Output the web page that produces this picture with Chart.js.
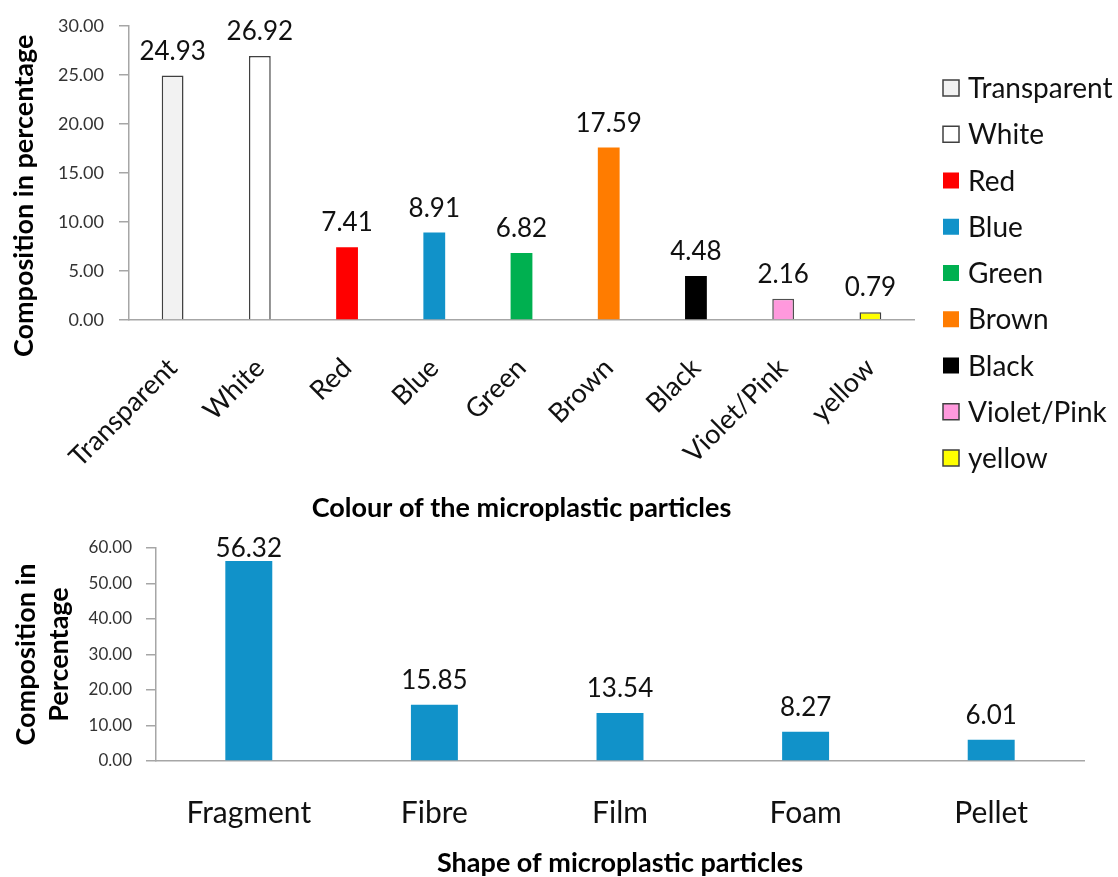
<!DOCTYPE html>
<html>
<head>
<meta charset="utf-8">
<script src="https://cdn.jsdelivr.net/npm/chart.js@4"></script>
<style>
  body { margin: 0; background: #fff; }
  #wrap { position: relative; width: 1118px; height: 877px; }
  #colourChart { position: absolute; left: 0; top: 0; }
  #shapeChart { position: absolute; left: 0; top: 520px; }
</style>
</head>
<body>
<div id="wrap">
  <canvas id="colourChart" width="1118" height="530"></canvas>
  <canvas id="shapeChart" width="1118" height="357"></canvas>
</div>
<script>
// Colour of particles (top chart)
const colourLabels = ['Transparent', 'White', 'Red', 'Blue', 'Green', 'Brown', 'Black', 'Violet/Pink', 'yellow'];
const colourValues = [24.93, 26.92, 7.41, 8.91, 6.82, 17.59, 4.48, 2.16, 0.79];
const colourFills = ['#f2f2f2', '#ffffff', '#ff0000', '#1192c9', '#00b050', '#ff7c00', '#000000', '#ff99dd', '#ffff00'];
const colourEdges = ['#404040', '#404040', '#ff0000', '#1192c9', '#00b050', '#ff7c00', '#000000', '#505050', '#404040'];
const colourEdgeWidths = [1.5, 1.5, 0, 0, 0, 0, 0, 1.5, 1.5];

// Shape of particles (bottom chart)
const shapeLabels = ['Fragment', 'Fibre', 'Film', 'Foam', 'Pellet'];
const shapeValues = [56.32, 15.85, 13.54, 8.27, 6.01];

const FONT = 'Lato';
const AXIS_GREY = '#a6a6a6';
Chart.defaults.font.family = FONT;
Chart.defaults.color = '#222';

// value labels above each bar
const valueLabels = {
  id: 'valueLabels',
  afterDatasetsDraw(chart) {
    const ctx = chart.ctx;
    const meta = chart.getDatasetMeta(0);
    const values = chart.data.datasets[0].data;
    ctx.save();
    ctx.font = '26px ' + FONT;
    ctx.fillStyle = '#111';
    ctx.textAlign = 'center';
    ctx.textBaseline = 'alphabetic';
    meta.data.forEach((bar, i) => {
      const y = Math.max(bar.y - 16, chart.chartArea.top + 9);
      ctx.fillText(values[i].toFixed(2), bar.x, y);
    });
    ctx.restore();
  }
};

// legend on the right of the colour chart
const colourLegend = {
  id: 'colourLegend',
  afterDraw(chart) {
    const ctx = chart.ctx;
    const x = chart.chartArea.right + 29;
    ctx.save();
    ctx.font = '28px ' + FONT;
    ctx.textBaseline = 'middle';
    ctx.textAlign = 'left';
    colourLabels.forEach((label, i) => {
      const y = 88 + i * 46.25;
      ctx.fillStyle = colourFills[i];
      ctx.fillRect(x, y - 8, 16, 16);
      if (colourEdgeWidths[i]) {
        ctx.strokeStyle = '#404040';
        ctx.lineWidth = 1.5;
        ctx.strokeRect(x, y - 8, 16, 16);
      }
      ctx.fillStyle = '#111';
      ctx.fillText(label, x + 25, y + 1);
    });
    ctx.restore();
  }
};

new Chart(document.getElementById('colourChart'), {
  type: 'bar',
  data: {
    labels: colourLabels,
    datasets: [{
      data: colourValues,
      backgroundColor: colourFills,
      borderColor: colourEdges,
      borderWidth: colourEdgeWidths,
      categoryPercentage: 1,
      barPercentage: 0.25
    }]
  },
  options: {
    responsive: false,
    animation: false,
    layout: { padding: { left: 0, top: 24, right: 1118 - 914, bottom: 0 } },
    plugins: { legend: { display: false }, tooltip: { enabled: false } },
    scales: {
      y: {
        min: 0, max: 30,
        afterFit: s => { s.width = 129; },
        ticks: { stepSize: 5, padding: 15, font: { size: 18 }, color: '#333', callback: v => v.toFixed(2) },
        grid: { drawOnChartArea: false, tickLength: 10, color: AXIS_GREY, lineWidth: 1.5 },
        border: { color: AXIS_GREY, width: 1.5 },
        title: {
          display: true,
          // trailing spaces push the title down, as in the original
          text: 'Composition in percentage' + ' '.repeat(7),
          font: { size: 27, weight: 'bold' },
          color: '#000',
          padding: { top: 8, bottom: 0 }
        }
      },
      x: {
        afterFit: s => { s.height = 210; },
        ticks: { minRotation: 45, maxRotation: 45, padding: 32, font: { size: 27 }, color: '#111', autoSkip: false },
        grid: { display: false, drawTicks: false },
        border: { color: AXIS_GREY, width: 1.5 },
        title: {
          display: true,
          text: 'Colour of the microplastic particles',
          font: { size: 27, weight: 'bold' },
          color: '#000',
          padding: { top: 0, bottom: 6 }
        }
      }
    }
  },
  plugins: [valueLabels, colourLegend]
});

new Chart(document.getElementById('shapeChart'), {
  type: 'bar',
  data: {
    labels: shapeLabels,
    datasets: [{
      data: shapeValues,
      backgroundColor: '#1192c9',
      categoryPercentage: 1,
      barPercentage: 0.253
    }]
  },
  options: {
    responsive: false,
    animation: false,
    layout: { padding: { left: 0, top: 28, right: 1118 - 1084, bottom: 0 } },
    plugins: { legend: { display: false }, tooltip: { enabled: false } },
    scales: {
      y: {
        min: 0, max: 60,
        afterFit: s => { s.width = 156; },
        ticks: { stepSize: 10, padding: 14, font: { size: 17 }, color: '#333', callback: v => v.toFixed(2) },
        grid: { drawOnChartArea: false, tickLength: 10, color: AXIS_GREY, lineWidth: 1.5 },
        border: { color: AXIS_GREY, width: 1.5 },
        title: {
          display: true,
          text: ['Composition in', 'Percentage'],
          font: { size: 27, weight: 'bold', lineHeight: 1.25 },
          color: '#000',
          padding: { top: 9, bottom: 0 }
        }
      },
      x: {
        afterFit: s => { s.height = 116; },
        ticks: { padding: 34, font: { size: 30 }, color: '#111' },
        grid: { display: false, drawTicks: false },
        border: { color: AXIS_GREY, width: 1.5 },
        title: {
          display: true,
          text: 'Shape of microplastic particles',
          font: { size: 27, weight: 'bold', lineHeight: 1 },
          color: '#000',
          padding: { top: 0, bottom: 0 }
        }
      }
    }
  },
  plugins: [valueLabels]
});
</script>
</body>
</html>
